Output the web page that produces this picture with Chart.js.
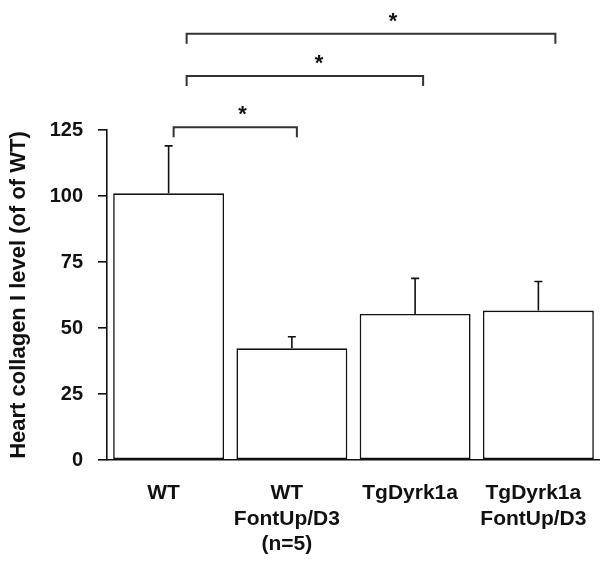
<!DOCTYPE html>
<html>
<head>
<meta charset="utf-8">
<script src="https://cdn.jsdelivr.net/npm/chart.js@4"></script>
<style>
  html, body { margin: 0; padding: 0; background: #fff; }
  #wrap { width: 600px; height: 561px; overflow: hidden; }
</style>
</head>
<body>
<div id="wrap"><canvas id="chart" width="600" height="561"></canvas></div>
<script>
// ─── DATA ───
const groups = [
    ['WT'],
    ['WT', 'FontUp/D3', '(n=5)'],
    ['TgDyrk1a'],
    ['TgDyrk1a', 'FontUp/D3']
];
const collagenMean = [101, 42.3, 55.3, 56.6];
const collagenSem = [18, 4.4, 13.5, 11];
const yTicks = [0, 25, 50, 75, 100, 125];

// significance: which groups are compared and the mark above each bracket
const sigPairs = [[0, 1], [0, 2], [0, 3]];
const sigMarks = ['*', '*', '*'];
const sigLevels = [126, 145.5, 161.5];

const FONT = 'Liberation Sans, Arial, sans-serif';

// ─── ERROR BARS (upper half only) ───
const errorBars = {
    id: 'errorBars',
    afterDatasetsDraw(chart) {
        const ctx = chart.ctx;
        const y = chart.scales.y;
        const meta = chart.getDatasetMeta(0);
        ctx.save();
        ctx.strokeStyle = '#111';
        ctx.lineWidth = 1.6;
        meta.data.forEach((bar, i) => {
            const top = y.getPixelForValue(collagenMean[i] + collagenSem[i]);
            const base = y.getPixelForValue(collagenMean[i]);
            ctx.beginPath();
            ctx.moveTo(bar.x, base);
            ctx.lineTo(bar.x, top);
            ctx.moveTo(bar.x - 4, top);
            ctx.lineTo(bar.x + 4, top);
            ctx.stroke();
        });
        ctx.restore();
    }
};

// ─── SIGNIFICANCE BRACKETS ───
// per-bracket tweaks in pixels: start offset, end offset, star position along the line
const bracketGeom = [
    { dx1: 5, dx2: 5, star: 0.56 },
    { dx1: 18, dx2: 8, star: 0.56 },
    { dx1: 18, dx2: 17, star: 0.56 }
];

const sigBrackets = {
    id: 'sigBrackets',
    afterDraw(chart) {
        const ctx = chart.ctx;
        const x = chart.scales.x;
        const y = chart.scales.y;
        ctx.save();
        ctx.strokeStyle = '#333';
        ctx.lineWidth = 2;
        ctx.fillStyle = '#111';
        ctx.font = 'bold 22px ' + FONT;
        ctx.textAlign = 'center';
        ctx.textBaseline = 'middle';
        sigPairs.forEach((pair, i) => {
            const g = bracketGeom[i];
            const x1 = x.getPixelForValue(pair[0]) + g.dx1;
            const x2 = x.getPixelForValue(pair[1]) + g.dx2;
            const yl = y.getPixelForValue(sigLevels[i]);
            ctx.beginPath();
            ctx.moveTo(x1, yl + 10);
            ctx.lineTo(x1, yl);
            ctx.lineTo(x2, yl);
            ctx.lineTo(x2, yl + 10);
            ctx.stroke();
            ctx.fillText(sigMarks[i], x1 + (x2 - x1) * g.star, yl - 12);
        });
        ctx.restore();
    }
};

new Chart(document.getElementById('chart'), {
    type: 'bar',
    data: {
        labels: groups,
        datasets: [{
            data: collagenMean,
            backgroundColor: '#fff',
            borderColor: '#111',
            borderWidth: 1.6,
            borderSkipped: false,
            barPercentage: 0.9,
            categoryPercentage: 1
        }]
    },
    options: {
        responsive: false,
        animation: false,
        layout: { padding: { top: 130, right: -4, bottom: 0, left: 0 } },
        plugins: {
            legend: { display: false },
            tooltip: { enabled: false }
        },
        scales: {
            x: {
                grid: { display: false, drawTicks: false },
                border: { display: true, color: '#111', width: 1.6 },
                ticks: {
                    color: '#111',
                    padding: 21,
                    labelOffset: -5,
                    maxRotation: 0,
                    autoSkip: false,
                    font: { family: FONT, size: 21, weight: 'bold', lineHeight: 1.2 }
                },
                afterFit(scale) {
                    scale.height = 101;
                    scale.paddingLeft = 0;
                    scale.paddingRight = 0;
                }
            },
            y: {
                min: 0,
                max: 125,
                afterBuildTicks(scale) { scale.ticks = yTicks.map(v => ({ value: v })); },
                grid: { drawOnChartArea: false, drawTicks: true, tickLength: 9, color: '#111', lineWidth: 1.6 },
                border: { display: true, color: '#111', width: 1.6 },
                ticks: {
                    color: '#111',
                    padding: 15,
                    font: { family: FONT, size: 20, weight: 'bold' }
                },
                title: {
                    display: true,
                    text: 'Heart collagen I level (of of WT)',
                    color: '#111',
                    padding: { top: 6, bottom: 0 },
                    font: { family: FONT, size: 22, weight: 'bold' }
                },
                afterFit(scale) { scale.width = 107; }
            }
        }
    },
    plugins: [errorBars, sigBrackets]
});
</script>
</body>
</html>
